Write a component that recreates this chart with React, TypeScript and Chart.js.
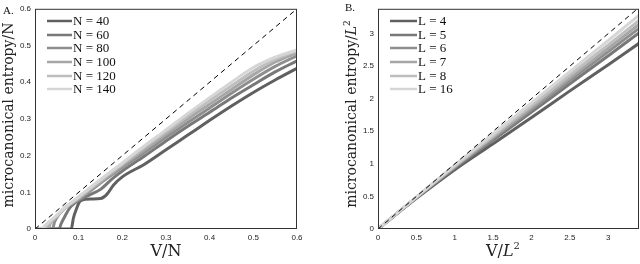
import React, { useEffect, useRef } from "react";
import { Chart, registerables } from "chart.js";

Chart.register(...registerables);

// ---------- Panel A data (V/N vs microcanonical entropy/N) ----------
const n40V = [0, 0.083, 0.088, 0.095, 0.103, 0.115, 0.13, 0.15, 0.165, 0.18, 0.2, 0.25, 0.3, 0.35, 0.4, 0.45, 0.5, 0.55, 0.6];
const n40S = [0, 0, 0.03, 0.055, 0.076, 0.081, 0.082, 0.083, 0.095, 0.12, 0.142, 0.176, 0.216, 0.256, 0.296, 0.335, 0.372, 0.406, 0.438];
const n60V = [0, 0.055, 0.06, 0.07, 0.08, 0.09, 0.1, 0.12, 0.15, 0.18, 0.2, 0.25, 0.3, 0.35, 0.4, 0.45, 0.5, 0.55, 0.6];
const n60S = [0, 0, 0.015, 0.038, 0.058, 0.07, 0.078, 0.09, 0.108, 0.14, 0.158, 0.198, 0.24, 0.28, 0.318, 0.357, 0.393, 0.428, 0.458];
const n80V = [0, 0.04, 0.045, 0.055, 0.07, 0.1, 0.15, 0.2, 0.25, 0.3, 0.35, 0.4, 0.45, 0.5, 0.55, 0.6];
const n80S = [0, 0, 0.02, 0.04, 0.06, 0.08, 0.125, 0.168, 0.208, 0.25, 0.29, 0.33, 0.37, 0.408, 0.443, 0.472];
const n100V = [0, 0.03, 0.035, 0.05, 0.07, 0.1, 0.15, 0.2, 0.25, 0.3, 0.35, 0.4, 0.45, 0.5, 0.55, 0.6];
const n100S = [0, 0, 0.015, 0.035, 0.058, 0.083, 0.128, 0.173, 0.215, 0.258, 0.3, 0.34, 0.38, 0.42, 0.455, 0.48];
const n120V = [0, 0.02, 0.03, 0.05, 0.07, 0.1, 0.15, 0.2, 0.25, 0.3, 0.35, 0.4, 0.45, 0.5, 0.55, 0.6];
const n120S = [0, 0, 0.012, 0.035, 0.058, 0.085, 0.132, 0.177, 0.222, 0.265, 0.308, 0.35, 0.39, 0.43, 0.462, 0.485];
const n140V = [0, 0.015, 0.025, 0.05, 0.07, 0.1, 0.15, 0.2, 0.25, 0.3, 0.35, 0.4, 0.45, 0.5, 0.55, 0.6];
const n140S = [0, 0, 0.012, 0.038, 0.06, 0.088, 0.135, 0.18, 0.226, 0.27, 0.315, 0.358, 0.4, 0.44, 0.468, 0.488];
const diagAV = [0, 0.6];
const diagAS = [0, 0.6];
const labelsA = ["N = 40", "N = 60", "N = 80", "N = 100", "N = 120", "N = 140"];
const xTicksA = [0, 0.1, 0.2, 0.3, 0.4, 0.5, 0.6];
const yTicksA = [0, 0.1, 0.2, 0.3, 0.4, 0.5, 0.6];

// ---------- Panel B data (V/L^2 vs microcanonical entropy/L^2) ----------
const lV = [0, 0.5, 1, 1.5, 2, 2.5, 3, 3.4];
const l4S = [0, 0.47, 0.91, 1.31, 1.71, 2.12, 2.52, 2.85];
const l5S = [0, 0.479, 0.936, 1.365, 1.794, 2.23, 2.659, 3.01];
const l6S = [0, 0.483, 0.948, 1.39, 1.832, 2.28, 2.722, 3.08];
const l7S = [0, 0.486, 0.958, 1.411, 1.864, 2.321, 2.774, 3.14];
const l8S = [0, 0.489, 0.968, 1.432, 1.896, 2.363, 2.827, 3.2];
const l16S = [0, 0.493, 0.98, 1.458, 1.936, 2.416, 2.894, 3.28];
const diagBV = [0, 3.4];
const diagBS = [0, 3.4];
const labelsB = ["L = 4", "L = 5", "L = 6", "L = 7", "L = 8", "L = 16"];
const xTicksB = [0, 0.5, 1, 1.5, 2, 2.5, 3];
const yTicksB = [0, 0.5, 1, 1.5, 2, 2.5, 3];

const grays = ["#606060", "#787878", "#8e8e8e", "#a6a6a6", "#bebebe", "#d6d6d6"];

const SERIF = "'Liberation Serif', 'Times New Roman', serif";
const TITLE_SERIF = "'DejaVu Serif', serif";
const SANS = "'Liberation Sans', Arial, sans-serif";

type Piece = { t: string; italic?: boolean; sup?: boolean };

function drawPieces(ctx: CanvasRenderingContext2D, pieces: Piece[], size: number) {
  const fontFor = (p: Piece) =>
    `${p.italic ? "italic " : ""}${p.sup ? Math.round(size * 0.65) : size}px ${TITLE_SERIF}`;
  let total = 0;
  const widths = pieces.map((p) => {
    ctx.font = fontFor(p);
    const w = ctx.measureText(p.t).width;
    total += w;
    return w;
  });
  let x = -total / 2;
  ctx.textAlign = "left";
  ctx.textBaseline = "alphabetic";
  pieces.forEach((p, i) => {
    ctx.font = fontFor(p);
    ctx.fillText(p.t, x, p.sup ? -size * 0.42 : 0);
    x += widths[i];
  });
}

type PanelProps = {
  series: { v: number[]; s: number[] }[];
  diag: { v: number[]; s: number[] };
  labels: string[];
  xMax: number;
  yMax: number;
  xTicks: number[];
  yTicks: number[];
  yAxisWidth: number;
  padRight: number;
  panelLabel: string;
  panelLabelPos: [number, number];
  legendX: [number, number];
  yTitle: Piece[];
  yTitlePos: [number, number];
  xTitle: Piece[];
  xTitlePos: [number, number];
  xTitleSize: number;
};

function Panel(props: PanelProps) {
  const ref = useRef<HTMLCanvasElement | null>(null);
  useEffect(() => {
    if (!ref.current) return;
    const datasets: any[] = props.series.map((sr, i) => ({
      label: props.labels[i],
      data: sr.v.map((v, j) => ({ x: v, y: sr.s[j] })),
      borderColor: grays[i],
      backgroundColor: grays[i],
      borderWidth: 3,
      pointRadius: 0,
      fill: false,
      cubicInterpolationMode: "monotone",
      order: props.series.length - i,
    }));
    datasets.push({
      label: "diag",
      data: props.diag.v.map((v, j) => ({ x: v, y: props.diag.s[j] })),
      borderColor: "#000",
      borderWidth: 1,
      borderDash: [5, 4],
      pointRadius: 0,
      fill: false,
      order: 0,
    });

    const decor = {
      id: "decor",
      afterDraw(chart: any) {
        const { ctx, chartArea } = chart;
        const { left, top, right, bottom } = chartArea;
        ctx.save();
        // frame
        ctx.strokeStyle = "#333";
        ctx.lineWidth = 1;
        ctx.strokeRect(left + 0.5, top + 0.5, right - left - 1, bottom - top - 1);
        // panel label
        ctx.fillStyle = "#111";
        ctx.font = `11px ${SERIF}`;
        ctx.textAlign = "left";
        ctx.textBaseline = "alphabetic";
        ctx.fillText(props.panelLabel, props.panelLabelPos[0], props.panelLabelPos[1]);
        // legend
        const rows = [21, 35, 48, 62, 76, 89];
        props.labels.forEach((lab, i) => {
          ctx.strokeStyle = grays[i];
          ctx.lineWidth = 2.5;
          ctx.beginPath();
          ctx.moveTo(props.legendX[0], rows[i]);
          ctx.lineTo(props.legendX[1], rows[i]);
          ctx.stroke();
          ctx.fillStyle = "#111";
          ctx.font = `13px ${SERIF}`;
          ctx.textBaseline = "middle";
          ctx.textAlign = "left";
          ctx.fillText(lab, props.legendX[1] + 1, rows[i] + 1);
        });
        // x title
        ctx.fillStyle = "#222";
        ctx.save();
        ctx.translate(props.xTitlePos[0], props.xTitlePos[1]);
        drawPieces(ctx, props.xTitle, props.xTitleSize);
        ctx.restore();
        // y title
        ctx.save();
        ctx.translate(props.yTitlePos[0], props.yTitlePos[1]);
        ctx.rotate(-Math.PI / 2);
        drawPieces(ctx, props.yTitle, 14);
        ctx.restore();
        ctx.restore();
      },
    };

    const tickFont = { family: SANS, size: 8 };
    const chart = new Chart(ref.current, {
      type: "line",
      data: { datasets },
      options: {
        animation: false,
        responsive: false,
        devicePixelRatio: 1,
        layout: { padding: { left: 0, right: props.padRight, top: 5, bottom: 0 } },
        plugins: { legend: { display: false }, tooltip: { enabled: false } },
        scales: {
          x: {
            type: "linear",
            min: 0,
            max: props.xMax,
            grid: { display: false, drawTicks: false },
            border: { display: false },
            ticks: {
              font: tickFont,
              color: "#222",
              padding: 4,
              maxRotation: 0,
              autoSkip: false,
              callback: (v: any) => String(v),
            },
            afterBuildTicks: (s: any) => {
              s.ticks = props.xTicks.map((v) => ({ value: v }));
            },
            afterFit: (s: any) => {
              s.height = 35;
            },
          },
          y: {
            type: "linear",
            min: 0,
            max: props.yMax,
            grid: { display: false, drawTicks: false },
            border: { display: false },
            ticks: {
              font: tickFont,
              color: "#222",
              padding: 4,
              autoSkip: false,
              callback: (v: any) => String(v),
            },
            afterBuildTicks: (s: any) => {
              s.ticks = props.yTicks.map((v) => ({ value: v }));
            },
            afterFit: (s: any) => {
              s.width = props.yAxisWidth;
            },
          },
        },
      } as any,
      plugins: [decor],
    });
    return () => chart.destroy();
  }, []);
  return <canvas ref={ref} width={320} height={264} style={{ display: "block", width: 320, height: 264 }} />;
}

export default function App() {
  return (
    <div style={{ position: "absolute", left: 0, top: 0, width: 640, height: 264, display: "flex", background: "#fff" }}>
      <Panel
        series={[
          { v: n40V, s: n40S },
          { v: n60V, s: n60S },
          { v: n80V, s: n80S },
          { v: n100V, s: n100S },
          { v: n120V, s: n120S },
          { v: n140V, s: n140S },
        ]}
        diag={{ v: diagAV, s: diagAS }}
        labels={labelsA}
        xMax={0.6}
        yMax={0.6}
        xTicks={xTicksA}
        yTicks={yTicksA}
        yAxisWidth={35}
        padRight={23}
        panelLabel="A."
        panelLabelPos={[3, 14]}
        legendX={[47, 72]}
        yTitle={[{ t: "microcanonical entropy/N" }]}
        yTitlePos={[13, 115]}
        xTitle={[{ t: "V/N" }]}
        xTitlePos={[166, 256]}
        xTitleSize={16}
      />
      <Panel
        series={[
          { v: lV, s: l4S },
          { v: lV, s: l5S },
          { v: lV, s: l6S },
          { v: lV, s: l7S },
          { v: lV, s: l8S },
          { v: lV, s: l16S },
        ]}
        diag={{ v: diagBV, s: diagBS }}
        labels={labelsB}
        xMax={3.4}
        yMax={3.38}
        xTicks={xTicksB}
        yTicks={yTicksB}
        yAxisWidth={58}
        padRight={1}
        panelLabel="B."
        panelLabelPos={[25, 11]}
        legendX={[70, 97]}
        yTitle={[{ t: "microcanonical entropy/" }, { t: "L", italic: true }, { t: "2", sup: true }]}
        yTitlePos={[36, 114]}
        xTitle={[{ t: "V/" }, { t: "L", italic: true }, { t: "2", sup: true }]}
        xTitlePos={[183, 256]}
        xTitleSize={16}
      />
    </div>
  );
}
